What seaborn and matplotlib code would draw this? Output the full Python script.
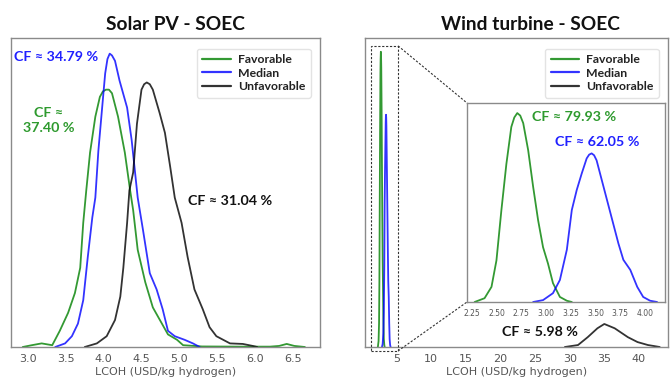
import matplotlib
matplotlib.use('Agg')
import matplotlib.pyplot as plt
import seaborn as sns
from matplotlib.patches import Rectangle
from matplotlib.lines import Line2D

# ---- Solar PV - SOEC : KDE curves (LCOH, density) ----
solar_fav_x = [2.93, 3.05, 3.18, 3.32, 3.42, 3.53, 3.62, 3.69, 3.73, 3.77, 3.82, 3.89, 3.95, 3.99,
               4.03, 4.07, 4.11, 4.19, 4.28, 4.35, 4.39, 4.45, 4.55, 4.65, 4.77, 4.85, 4.97, 5.05,
               5.30, 5.80, 6.20, 6.32, 6.42, 6.52, 6.66]
solar_fav_y = [0.00, 0.01, 0.02, 0.01, 0.09, 0.19, 0.30, 0.44, 0.69, 0.87, 1.08, 1.28, 1.39, 1.42,
               1.43, 1.43, 1.41, 1.28, 1.08, 0.87, 0.76, 0.54, 0.36, 0.22, 0.13, 0.07, 0.04, 0.01,
               0.003, 0.002, 0.002, 0.006, 0.017, 0.006, 0.00]
solar_med_x = [3.36, 3.49, 3.58, 3.66, 3.73, 3.79, 3.85, 3.89, 3.93, 3.98, 4.02, 4.05, 4.08, 4.11,
               4.15, 4.21, 4.31, 4.37, 4.45, 4.52, 4.61, 4.70, 4.78, 4.85, 4.94, 5.07, 5.18, 5.27]
solar_med_y = [0.00, 0.02, 0.06, 0.13, 0.26, 0.50, 0.72, 0.83, 1.09, 1.33, 1.52, 1.60, 1.63, 1.62,
               1.59, 1.48, 1.33, 1.15, 0.83, 0.65, 0.41, 0.32, 0.21, 0.09, 0.06, 0.04, 0.02, 0.00]
solar_unf_x = [3.75, 3.91, 4.04, 4.15, 4.22, 4.26, 4.31, 4.34, 4.39, 4.44, 4.50, 4.535, 4.57, 4.61,
               4.65, 4.74, 4.81, 4.88, 4.94, 5.03, 5.11, 5.20, 5.31, 5.40, 5.49, 5.67, 5.84, 5.97,
               6.03]
solar_unf_y = [0.00, 0.02, 0.06, 0.15, 0.28, 0.44, 0.69, 0.87, 0.97, 1.24, 1.43, 1.46, 1.47, 1.46,
               1.43, 1.30, 1.19, 1.00, 0.83, 0.69, 0.50, 0.32, 0.21, 0.11, 0.06, 0.02, 0.017, 0.006,
               0.00]

# ---- Wind turbine - SOEC ----
wind_fav_x = [2.28, 2.38, 2.45, 2.50, 2.55, 2.60, 2.65, 2.68, 2.71, 2.74, 2.77, 2.82, 2.87, 2.92,
              2.97, 3.02, 3.07, 3.14, 3.21, 3.26]
wind_fav_y = [0.00, 0.06, 0.24, 0.66, 1.46, 2.19, 2.78, 2.93, 3.00, 2.96, 2.84, 2.41, 1.83, 1.30,
              0.87, 0.61, 0.30, 0.08, 0.02, 0.00]
wind_med_x = [2.87, 2.97, 3.07, 3.14, 3.21, 3.26, 3.31, 3.36, 3.41, 3.435, 3.46, 3.485, 3.51, 3.58,
              3.66, 3.73, 3.78, 3.85, 3.92, 3.98, 4.05, 4.12]
wind_med_y = [0.00, 0.03, 0.14, 0.35, 0.83, 1.46, 1.78, 2.04, 2.28, 2.34, 2.36, 2.33, 2.25, 1.83,
              1.35, 0.93, 0.67, 0.51, 0.24, 0.08, 0.02, 0.00]
wind_unf_x = [29.3, 31.2, 32.6, 34.0, 35.0, 36.5, 38.4, 39.8, 41.3, 43.0]
wind_unf_y = [0.000, 0.020, 0.100, 0.190, 0.234, 0.190, 0.100, 0.050, 0.020, 0.000]

labels = ['Favorable', 'Median', 'Unfavorable']
colors = ['green', 'blue', 'black']
solar_cf = ['CF ≈\n37.40 %', 'CF ≈ 34.79 %', 'CF ≈ 31.04 %']
wind_cf = ['CF ≈ 79.93 %', 'CF ≈ 62.05 %', 'CF ≈ 5.98 %']
solar_ticks = [3.0, 3.5, 4.0, 4.5, 5.0, 5.5, 6.0, 6.5]
wind_ticks = [5, 10, 15, 20, 25, 30, 35, 40]
inset_ticks = [2.25, 2.50, 2.75, 3.00, 3.25, 3.50, 3.75, 4.00]

sns.set_style('white')
FONT = ['Lato', 'DejaVu Sans']
plt.rcParams['font.family'] = ['DejaVu Sans']
SPINE = '#8a8a8a'
TICKC = '#555555'

fig = plt.figure(figsize=(6.7, 3.81), dpi=100)
ax1 = fig.add_axes([11 / 670, 1 - 347 / 381, 309 / 670, 309 / 381])
ax2 = fig.add_axes([365 / 670, 1 - 347 / 381, 303 / 670, 309 / 381])
axin = fig.add_axes([467 / 670, 1 - 302 / 381, 198 / 670, 199 / 381])


def style_axes(ax, ticks, fs):
    for s in ax.spines.values():
        s.set_color(SPINE)
        s.set_linewidth(1.0)
    ax.set_yticks([])
    ax.set_ylabel('')
    ax.set_xticks(ticks)
    ax.tick_params(axis='x', colors=TICKC, labelsize=fs, length=3, width=0.8, pad=2)


def draw(ax, xs, ys):
    for x, y, c, lab in zip(xs, ys, colors, labels):
        sns.lineplot(x=x, y=y, ax=ax, color=c, alpha=0.8, lw=1.3, label=lab)


draw(ax1, [solar_fav_x, solar_med_x, solar_unf_x], [solar_fav_y, solar_med_y, solar_unf_y])
ax1.set_xlim(2.775, 6.86)
ax1.set_ylim(0, 1.717)
style_axes(ax1, solar_ticks, 8)
ax1.set_xlabel('LCOH (USD/kg hydrogen)', fontsize=8, color=TICKC, labelpad=2)

draw(ax2, [wind_fav_x, wind_med_x, wind_unf_x], [wind_fav_y, wind_med_y, wind_unf_y])
ax2.set_xlim(0.42, 44.2)
ax2.set_ylim(0, 3.14)
style_axes(ax2, wind_ticks, 8)
ax2.set_xlabel('LCOH (USD/kg hydrogen)', fontsize=8, color=TICKC, labelpad=2)

draw(axin, [wind_fav_x, wind_med_x], [wind_fav_y, wind_med_y])
axin.legend_.remove()
axin.set_xlim(2.203, 4.2)
axin.set_ylim(0, 3.16)
style_axes(axin, inset_ticks, 5.5)
axin.set_xlabel('')

for ax in (ax1, ax2):
    leg = ax.legend(loc='upper right', frameon=True, fancybox=True,
                    handlelength=2.3, handletextpad=0.6, borderpad=0.45, labelspacing=0.2,
                    bbox_to_anchor=(0.99, 0.985), prop={'family': FONT, 'weight': 'bold', 'size': 8.8})
    leg.get_frame().set_edgecolor('#dddddd')
    for t in leg.get_texts():
        t.set_color('#222222')
    for h in leg.get_lines():
        h.set_linewidth(1.6)

# zoom marker on main wind axes
rect = Rectangle((1.29, -0.04), 3.91, 3.10, fill=False, ls=(0, (2, 1.5)), lw=0.8,
                 ec='#333333', clip_on=False, zorder=5)
ax2.add_patch(rect)
for (x0, y0), (x1, y1) in [((5.2, 3.06), (0, 1)), ((5.2, -0.04), (0, 0))]:
    fx, fy = fig.transFigure.inverted().transform(ax2.transData.transform((x0, y0)))
    gx, gy = fig.transFigure.inverted().transform(axin.transAxes.transform((x1, y1)))
    fig.add_artist(Line2D([fx, gx], [fy, gy], transform=fig.transFigure, ls=(0, (2, 1.5)),
                          lw=0.8, color='#333333'))

tk = dict(fontsize=10.3, fontweight='bold', family=FONT, ha='center', va='center')
ax1.text(0.123, 0.733, solar_cf[0], transform=ax1.transAxes, color='#2e9a2e', linespacing=1.35, **tk)
ax1.text(0.147, 0.94, solar_cf[1], transform=ax1.transAxes, color='#2020ff', **tk)
ax1.text(0.709, 0.473, solar_cf[2], transform=ax1.transAxes, color='#111111', **tk)
axin.text(0.54, 0.931, wind_cf[0], transform=axin.transAxes, color='#2e9a2e', **tk)
axin.text(0.659, 0.805, wind_cf[1], transform=axin.transAxes, color='#2020ff', **tk)
ax2.text(0.578, 0.05, wind_cf[2], transform=ax2.transAxes, color='#111111', **tk)

fig.text(175 / 670, 1 - 25 / 381, 'Solar PV - SOEC', ha='center', va='center',
         fontsize=13.8, fontweight='bold', family=FONT, color='#111111')
fig.text(530 / 670, 1 - 25 / 381, 'Wind turbine - SOEC', ha='center', va='center',
         fontsize=13.8, fontweight='bold', family=FONT, color='#111111')

fig.savefig('out.png', dpi=100)
